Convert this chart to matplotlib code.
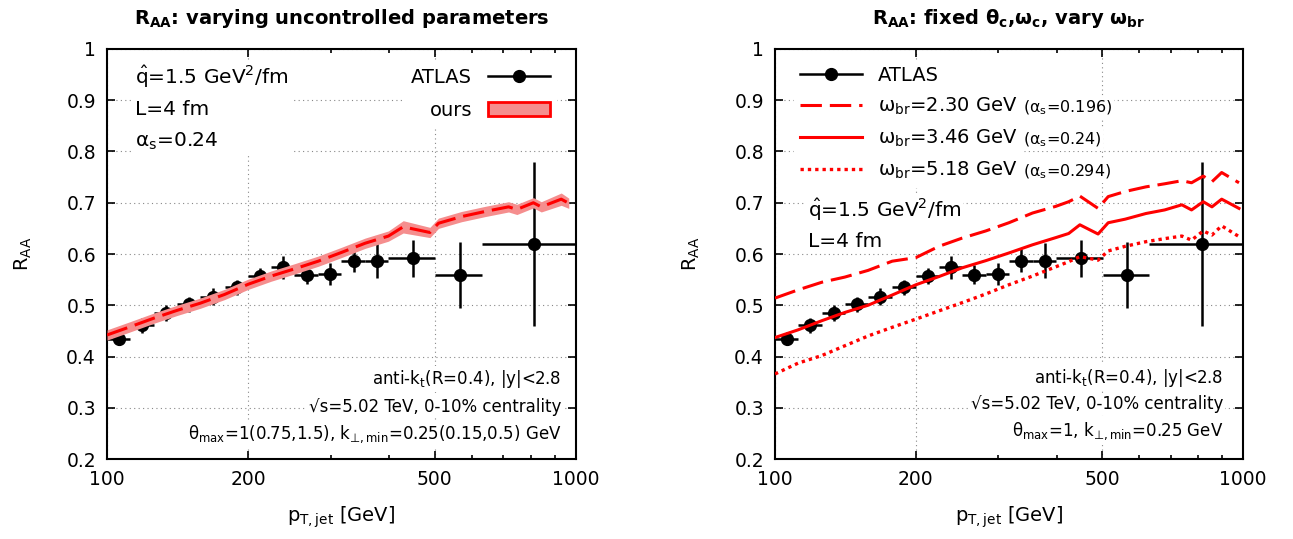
import numpy as np
import matplotlib
matplotlib.use('Agg')
import matplotlib.pyplot as plt
from matplotlib.lines import Line2D
from matplotlib.patches import Patch
from matplotlib.ticker import NullFormatter

plt.rcParams['font.family'] = ['DejaVu Sans']
plt.rcParams['mathtext.default'] = 'regular'
plt.rcParams['font.size'] = 14

# ATLAS 5.02 TeV, 0-10% (bin edges, points, stat+sys)
pt_edges = [100, 112, 126, 141, 158, 178, 200, 224, 251, 282, 316, 355, 398, 501, 631, 1000]
atlas_pt = [106, 119, 133.5, 149.5, 168, 189, 212, 237.5, 266.5, 299, 335.5, 376.5, 449.5, 566, 815.5]
atlas_raa = [0.435, 0.461, 0.485, 0.502, 0.517, 0.535, 0.557, 0.574, 0.560, 0.561,
             0.587, 0.587, 0.592, 0.559, 0.620]
atlas_err = [0.013, 0.015, 0.015, 0.015, 0.016, 0.015, 0.016, 0.023, 0.018, 0.021,
             0.023, 0.034, 0.036, 0.064, 0.160]

# left panel: our result with its band
ours_pt = [100, 112, 126, 141, 158, 178, 200, 224, 251, 282, 316, 355, 398, 428,
           488, 509, 570, 640, 718, 748, 811, 843, 930, 965]
ours_raa = [0.442, 0.458, 0.475, 0.490, 0.504, 0.521, 0.541, 0.557, 0.571, 0.586,
            0.603, 0.621, 0.635, 0.653, 0.642, 0.660, 0.673, 0.683, 0.692, 0.687,
            0.700, 0.692, 0.707, 0.699]
band_lo = [0.432, 0.448, 0.465, 0.480, 0.494, 0.511, 0.531, 0.547, 0.561, 0.576,
           0.593, 0.611, 0.625, 0.641, 0.632, 0.650, 0.663, 0.673, 0.682, 0.677,
           0.690, 0.682, 0.695, 0.689]
band_hi = [0.452, 0.468, 0.485, 0.500, 0.514, 0.531, 0.551, 0.567, 0.581, 0.596,
           0.613, 0.631, 0.645, 0.665, 0.652, 0.670, 0.683, 0.693, 0.702, 0.697,
           0.710, 0.702, 0.719, 0.709]

# right panel: vary omega_br
pt_th = [100, 112, 126, 141, 158, 178, 200, 224, 251, 282, 316, 355, 398, 424,
         448, 490, 515, 560, 620, 680, 740, 776, 822, 858, 900, 980]
raa_wbr_230 = [0.514, 0.530, 0.545, 0.555, 0.568, 0.586, 0.593, 0.615, 0.631, 0.645,
               0.661, 0.680, 0.693, 0.702, 0.713, 0.689, 0.712, 0.722, 0.731, 0.737,
               0.743, 0.739, 0.752, 0.741, 0.759, 0.739]
raa_wbr_346 = [0.437, 0.452, 0.470, 0.486, 0.500, 0.520, 0.540, 0.556, 0.573, 0.587,
               0.602, 0.618, 0.632, 0.640, 0.657, 0.639, 0.661, 0.668, 0.679, 0.686,
               0.696, 0.686, 0.702, 0.692, 0.707, 0.689]
raa_wbr_518 = [0.366, 0.387, 0.402, 0.421, 0.440, 0.457, 0.473, 0.489, 0.505, 0.522,
               0.540, 0.557, 0.575, 0.585, 0.595, 0.588, 0.606, 0.615, 0.624, 0.630,
               0.635, 0.627, 0.645, 0.637, 0.655, 0.634]

x_ticks = [100, 200, 500, 1000]
x_tick_labels = ['100', '200', '500', '1000']
x_minor = [300, 400, 600, 700, 800, 900]
y_ticks = [0.2, 0.3, 0.4, 0.5, 0.6, 0.7, 0.8, 0.9, 1.0]
y_tick_labels = ['0.2', '0.3', '0.4', '0.5', '0.6', '0.7', '0.8', '0.9', '1']

pink = '#f58e8e'
dash = (0, (7, 2.6))
dots = (0, (1, 1.2))
white_box = dict(facecolor='white', edgecolor='none', pad=1.5)


def style_axes(ax, title):
    ax.set_xscale('log')
    ax.set_xlim(100, 1000)
    ax.set_ylim(0.2, 1.0)
    ax.set_xticks(x_ticks, labels=x_tick_labels)
    ax.set_xticks(x_minor, minor=True)
    ax.xaxis.set_minor_formatter(NullFormatter())
    ax.set_yticks(y_ticks, labels=y_tick_labels)
    ax.tick_params(which='both', direction='in', top=True, right=True, labelsize=13.5)
    ax.tick_params(which='major', length=6, width=1.2, pad=8)
    ax.tick_params(which='minor', length=3, width=1.2)
    ax.grid(True, which='major', linestyle=(0, (1, 3)), color='#888888', lw=0.8, zorder=0)
    ax.set_axisbelow(True)
    for sp in ax.spines.values():
        sp.set_linewidth(1.5)
    ax.set_xlabel('p$_{T,jet}$ [GeV]', fontsize=14)
    ax.xaxis.set_label_coords(0.5, -0.11)
    ax.set_ylabel('R$_{AA}$', fontsize=14)
    ax.yaxis.set_label_coords(-0.155, 0.5)
    ax.set_title(title, fontsize=14, fontweight='bold', pad=18)


def draw_atlas(ax):
    pt = np.array(atlas_pt)
    xlo = pt - np.array(pt_edges[:-1])
    xhi = np.array(pt_edges[1:]) - pt
    ax.errorbar(atlas_pt, atlas_raa, yerr=atlas_err, xerr=[xlo, xhi], fmt='o',
                color='black', ms=8.5, elinewidth=1.8, capsize=0, zorder=3)


fig = plt.figure(figsize=(12.93, 5.39), dpi=100)
ax1 = fig.add_axes([0.0828, 0.1484, 0.3627, 0.7607])
ax2 = fig.add_axes([0.5994, 0.1484, 0.3620, 0.7607])

# ---- left panel
style_axes(ax1, 'R$_{AA}$: varying uncontrolled parameters')
draw_atlas(ax1)
ax1.fill_between(ours_pt, band_lo, band_hi, color=pink, lw=0, zorder=4)
ax1.plot(ours_pt, ours_raa, color='red', ls=dash, lw=2.2, zorder=5)

h_atlas = Line2D([], [], color='black', marker='o', ms=8.5, lw=1.8)
h_ours = Patch(facecolor=pink, edgecolor='red', lw=2)
leg1 = ax1.legend([h_atlas, h_ours], ['ATLAS', 'ours'], loc='upper right',
                  bbox_to_anchor=(0.957, 0.968), borderaxespad=0, markerfirst=False,
                  frameon=True, framealpha=1, edgecolor='white', fancybox=False,
                  handlelength=3.2, handletextpad=0.8, borderpad=0.3,
                  labelspacing=0.72, fontsize=14)
leg1.set_zorder(6)

ax1.text(0.06, 0.963, '$\\hat{q}$=1.5 GeV$^2$/fm\nL=4 fm\nα$_s$=0.24',
         transform=ax1.transAxes, ha='left', va='top', fontsize=14.5,
         linespacing=1.68, bbox=white_box, zorder=2.5)

notes_left = ['anti-k$_t$(R=0.4), |y|<2.8',
              '√s=5.02 TeV, 0-10% centrality',
              'θ$_{max}$=1(0.75,1.5), k$_{⊥,min}$=0.25(0.15,0.5) GeV']
for yy, s in zip([0.183, 0.115, 0.049], notes_left):
    ax1.text(0.968, yy, s, transform=ax1.transAxes, ha='right', va='baseline',
             fontsize=12, bbox=white_box, zorder=2.5)

# ---- right panel
style_axes(ax2, 'R$_{AA}$: fixed θ$_c$,ω$_c$, vary ω$_{br}$')
draw_atlas(ax2)
l230, = ax2.plot(pt_th, raa_wbr_230, color='red', ls=dash, lw=2.2, zorder=5)
l346, = ax2.plot(pt_th, raa_wbr_346, color='red', ls='-', lw=2.2, zorder=5)
l518, = ax2.plot(pt_th, raa_wbr_518, color='red', ls=dots, lw=2.4, zorder=5)

leg2 = ax2.legend([h_atlas, l230, l346, l518],
                  ['ATLAS', 'ω$_{br}$=2.30 GeV', 'ω$_{br}$=3.46 GeV', 'ω$_{br}$=5.18 GeV'],
                  loc='upper left', bbox_to_anchor=(0.0406, 0.973), borderaxespad=0,
                  frameon=True, framealpha=1, edgecolor='white', fancybox=False,
                  handlelength=3.2, handletextpad=0.8, borderpad=0.3,
                  labelspacing=0.55, fontsize=14)
leg2.set_zorder(6)
for t, s in zip(leg2.get_texts()[1:], ['(α$_s$=0.196)', '(α$_s$=0.24)', '(α$_s$=0.294)']):
    ax2.annotate(s, xy=(1, 0), xycoords=t, xytext=(4, 0), textcoords='offset points',
                 ha='left', va='bottom', fontsize=11.5, bbox=white_box, zorder=7)

ax2.text(0.0705, 0.639, '$\\hat{q}$=1.5 GeV$^2$/fm\nL=4 fm',
         transform=ax2.transAxes, ha='left', va='top', fontsize=14.5,
         linespacing=1.6, bbox=white_box, zorder=2.5)

notes_right = ['anti-k$_t$(R=0.4), |y|<2.8',
               '√s=5.02 TeV, 0-10% centrality',
               'θ$_{max}$=1, k$_{⊥,min}$=0.25 GeV']
for yy, s in zip([0.185, 0.122, 0.056], notes_right):
    ax2.text(0.957, yy, s, transform=ax2.transAxes, ha='right', va='baseline',
             fontsize=12, bbox=white_box, zorder=2.5)

fig.savefig('out.png', dpi=100)
